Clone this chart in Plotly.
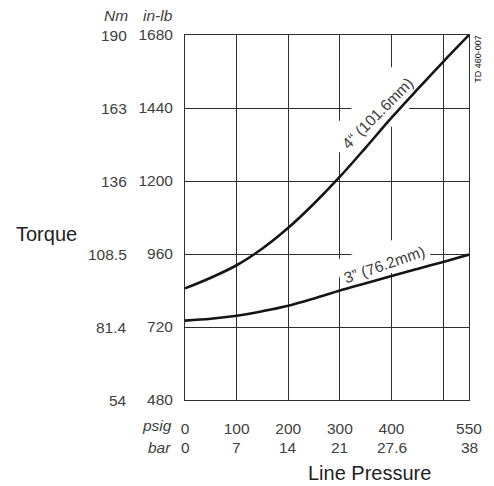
import math
import plotly.graph_objects as go

# ---- data ----
pressure_psig = [0, 50, 100, 150, 200, 250, 300, 350, 400, 450, 500, 550]
torque_4in = [847, 882, 923, 978, 1046, 1126, 1214, 1310, 1408, 1501, 1592, 1680]
torque_3in = [741, 747, 757, 772, 790, 814, 840, 864, 888, 911, 934, 958]

x_tickvals = [0, 100, 200, 300, 400, 500, 550]
x_psig_text = ["0", "100", "200", "300", "400", "", "550"]
bar_vals = [0, 100, 200, 300, 400, 550]
bar_text = ["0", "7", "14", "21", "27.6", "38"]

y_tickvals = [480, 720, 960, 1200, 1440, 1680]
y_inlb_text = ["480", "720", "960", "1200", "1440", "1680"]
y_nm_text = ["54", "81.4", "108.5", "136", "163", "190"]

# ---- layout constants ----
W, H = 494, 486
ML, MR, MT, MB = 185, 16, 35, 86
PW, PH = W - ML - MR, H - MT - MB
XR = [0, 550]
YR = [480, 1680]
FONT = "Liberation Sans, Arial, sans-serif"
TXT = "#404040"
GRID = "#2e2e2e"
FS = 15.5


def d2p(x, y):
    px = ML + (x - XR[0]) / (XR[1] - XR[0]) * PW
    py = MT + PH - (y - YR[0]) / (YR[1] - YR[0]) * PH
    return px, py


def p2d(px, py):
    x = XR[0] + (px - ML) / PW * (XR[1] - XR[0])
    y = YR[0] + (MT + PH - py) / PH * (YR[1] - YR[0])
    return x, y


fig = go.Figure()

# curve labels: text, data position, angle (deg, ccw), white box extents (px)
labels = [
    ("4\u201c (101.6mm)", 372, 1423, 45, (-55, 55), (-22, 20)),
    ("3\u201d (76.2mm)", 386, 927, 19, (-48, 48), (-20, 11)),
]

shapes = []
for text, lx, ly, ang, (u0, u1), (v0, v1) in labels:
    cx, cy = d2p(lx, ly)
    a = math.radians(ang)
    t = (math.cos(a), -math.sin(a))
    n = (math.sin(a), math.cos(a))
    pts = []
    for u, v in [(u0, v0), (u1, v0), (u1, v1), (u0, v1)]:
        px = cx + u * t[0] + v * n[0]
        py = cy + u * t[1] + v * n[1]
        pts.append(p2d(px, py))
    path = "M " + " L ".join(f"{p[0]:.3f},{p[1]:.3f}" for p in pts) + " Z"
    shapes.append(dict(type="path", path=path, xref="x", yref="y",
                       fillcolor="white", line=dict(width=0), layer="between"))

fig.add_trace(go.Scatter(x=pressure_psig, y=torque_4in, mode="lines",
                         line=dict(color="#151515", width=2.6, shape="spline"),
                         hoverinfo="skip"))
fig.add_trace(go.Scatter(x=pressure_psig, y=torque_3in, mode="lines",
                         line=dict(color="#151515", width=2.6, shape="spline"),
                         hoverinfo="skip"))

ann = []
for text, lx, ly, ang, _, _ in labels:
    ann.append(dict(x=lx, y=ly, xref="x", yref="y", text=text, showarrow=False,
                    textangle=-ang, font=dict(family=FONT, size=FS, color=TXT),
                    xanchor="center", yanchor="middle"))

# Nm column
nm_x = (127 - ML) / PW
for v, t in zip(y_tickvals, y_nm_text):
    ann.append(dict(x=nm_x, y=v, xref="paper", yref="y", text=t, showarrow=False,
                    xanchor="right", yanchor="middle",
                    font=dict(family=FONT, size=FS, color=TXT)))
# bar row
bar_y = (MT + PH - 447) / PH
for v, t in zip(bar_vals, bar_text):
    ann.append(dict(x=v, y=bar_y, xref="x", yref="paper", text=t, showarrow=False,
                    xanchor="center", yanchor="middle",
                    font=dict(family=FONT, size=FS, color=TXT)))

hdr_y = (MT + PH - 15) / PH
ann += [
    dict(x=(128 - ML) / PW, y=hdr_y, xref="paper", yref="paper", text="<i>Nm</i>",
         showarrow=False, xanchor="right", yanchor="middle",
         font=dict(family=FONT, size=FS, color=TXT)),
    dict(x=(175 - ML) / PW, y=hdr_y, xref="paper", yref="paper", text="<i>in-lb</i>",
         showarrow=False, xanchor="right", yanchor="middle",
         font=dict(family=FONT, size=FS, color=TXT)),
    dict(x=(174 - ML) / PW, y=(MT + PH - 425) / PH, xref="paper", yref="paper",
         text="<i>psig</i>", showarrow=False, xanchor="right", yanchor="middle",
         font=dict(family=FONT, size=FS, color=TXT)),
    dict(x=(173 - ML) / PW, y=bar_y, xref="paper", yref="paper",
         text="<i>bar</i>", showarrow=False, xanchor="right", yanchor="middle",
         font=dict(family=FONT, size=FS, color=TXT)),
    dict(x=(76 - ML) / PW, y=(MT + PH - 234) / PH, xref="paper", yref="paper",
         text="Torque", showarrow=False, xanchor="right", yanchor="middle",
         font=dict(family=FONT, size=20, color="#222222")),
    dict(x=(375 - ML) / PW, y=(MT + PH - 473) / PH, xref="paper", yref="paper",
         text="Line Pressure", showarrow=False, xanchor="center", yanchor="middle",
         font=dict(family=FONT, size=20, color="#222222")),
    dict(x=(487 - ML) / PW, y=(MT + PH - 59) / PH, xref="paper", yref="paper",
         text="TD 460-007", showarrow=False, textangle=-90,
         xanchor="center", yanchor="middle",
         font=dict(family=FONT, size=9, color="#111111")),
]

fig.update_layout(
    width=W, height=H,
    margin=dict(l=ML, r=MR, t=MT, b=MB, pad=0),
    paper_bgcolor="white", plot_bgcolor="white",
    showlegend=False,
    shapes=shapes,
    annotations=ann,
    xaxis=dict(range=XR, tickmode="array", tickvals=x_tickvals, ticktext=x_psig_text,
               showgrid=True, gridcolor=GRID, gridwidth=1, zeroline=False,
               showline=True, mirror=True, linecolor=GRID, linewidth=1,
               ticks="outside", ticklen=14, tickcolor="rgba(0,0,0,0)",
               tickfont=dict(family=FONT, size=FS, color=TXT), fixedrange=True),
    yaxis=dict(range=YR, tickmode="array", tickvals=y_tickvals, ticktext=y_inlb_text,
               showgrid=True, gridcolor=GRID, gridwidth=1, zeroline=False,
               showline=True, mirror=True, linecolor=GRID, linewidth=1,
               ticks="outside", ticklen=8, tickcolor="rgba(0,0,0,0)",
               tickfont=dict(family=FONT, size=FS, color=TXT), fixedrange=True),
)

fig.write_html("out.html", config={"displayModeBar": False},
               post_script="document.body.style.margin='0';document.body.style.overflow='hidden';")
